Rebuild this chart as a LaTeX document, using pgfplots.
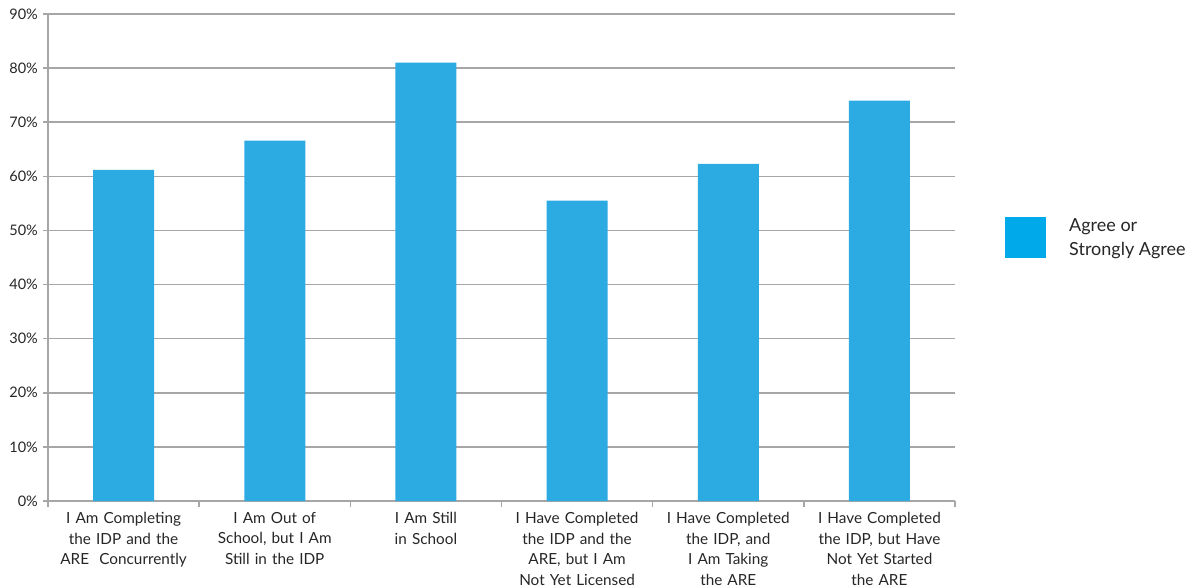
\documentclass[border=0pt]{standalone}
\usepackage{pgfplots}
\pgfplotsset{compat=1.18}
\usepackage{fontspec}
\setmainfont{Lato}
\definecolor{barblue}{HTML}{2BABE2}
\definecolor{legblue}{HTML}{00A9E9}
\definecolor{gridgray}{HTML}{A6A6A6}
\definecolor{txt}{HTML}{262626}
\begin{document}
\begin{tikzpicture}[x=1pt,y=1pt]
\path[use as bounding box] (0,0) rectangle (1201,587);
\begin{axis}[
  at={(48pt,86pt)}, anchor=south west,
  scale only axis, width=907pt, height=487pt,
  xmin=-0.5, xmax=5.5, ymin=0, ymax=90,
  axis lines=left,
  axis line style={gridgray, line width=1.5pt, -},
  ytick={0,10,...,90},
  yticklabel={\pgfmathprintnumber{\tick}\%},
  /pgf/number format/assume math mode=true,
  ymajorgrids,
  grid style={gridgray, line width=1.5pt},
  tick align=outside,
  major tick length=5pt,
  ytick style={gridgray, line width=1.5pt},
  y tick label style={font=\fontsize{14.5}{17}\selectfont, text=txt, inner sep=0pt, xshift=-5pt},
  xtick={0,...,5},
  xticklabels={{I Am Completing\\the IDP and the\\ARE\ \ Concurrently},
               {I Am Out of\\School, but I Am\\Still in the IDP},
               {I Am Still\\in School},
               {I Have Completed\\the IDP and the\\ARE, but I Am\\Not Yet Licensed},
               {I Have Completed\\the IDP, and\\I Am Taking\\the ARE},
               {I Have Completed\\the IDP, but Have\\Not Yet Started\\the ARE}},
  x tick label style={font=\fontsize{15.3}{20.6}\selectfont, text=txt, align=center, text width=160pt, inner sep=0pt, yshift=-6pt},
  xtick style={draw=none},
  extra x ticks={-0.5,0.5,1.5,2.5,3.5,4.5,5.5},
  extra x tick labels={},
  extra x tick style={grid=none, xtick style={draw=gridgray, line width=1.5pt}, major tick length=6pt},
  ybar, bar width=61pt, bar shift=0pt,
  legend style={at={(rel axis cs:1.0551,0.541)}, anchor=west, draw=none, fill=none, inner sep=0pt,
     cells={align=left, anchor=west}, nodes={inner sep=0pt, text=txt},
     font=\fontsize{18}{24}\selectfont},
  legend image code/.code={\fill[legblue] (0pt,-20.5pt) rectangle (41pt,20.5pt); \path (64pt,0pt);},
  clip=false,
]
\addplot[fill=barblue, draw=none] coordinates {(0,61.2) (1,66.6) (2,81.0) (3,55.5) (4,62.3) (5,74.0)};
\addlegendentry{Agree or\\Strongly Agree}
\end{axis}
\end{tikzpicture}
\end{document}
